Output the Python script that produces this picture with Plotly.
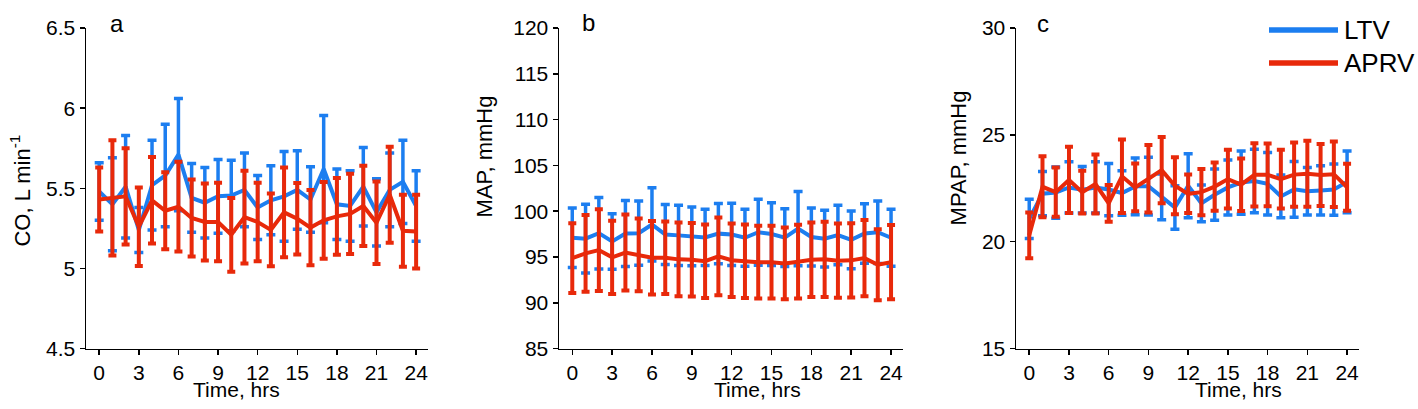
import plotly.graph_objects as go

hours = list(range(25))
x_tick_vals = [0, 3, 6, 9, 12, 15, 18, 21, 24]
x_tick_text = ["0", "3", "6", "9", "12", "15", "18", "21", "24"]

co_ticks = [4.5, 5, 5.5, 6, 6.5]
co_tick_text = ["4.5", "5", "5.5", "6", "6.5"]
map_ticks = [85, 90, 95, 100, 105, 110, 115, 120]
mpap_ticks = [15, 20, 25, 30]

co_ltv_mean = [5.48, 5.40, 5.51, 5.24, 5.52, 5.58, 5.71, 5.44, 5.41, 5.45, 5.455, 5.49, 5.38,
               5.425, 5.45, 5.49, 5.43, 5.62, 5.40, 5.39, 5.51, 5.35, 5.49, 5.54, 5.39]
co_ltv_sd = [0.18, 0.29, 0.32, 0.14, 0.28, 0.32, 0.35, 0.215, 0.22, 0.23, 0.22, 0.23, 0.20,
             0.215, 0.28, 0.245, 0.205, 0.335, 0.22, 0.22, 0.245, 0.21, 0.23, 0.26, 0.22]
co_aprv_mean = [5.43, 5.44, 5.45, 5.26, 5.425, 5.36, 5.385, 5.315, 5.29, 5.29, 5.21, 5.32, 5.29,
                5.24, 5.35, 5.31, 5.255, 5.30, 5.325, 5.34, 5.39, 5.285, 5.46, 5.235, 5.23]
co_aprv_sd = [0.20, 0.36, 0.30, 0.245, 0.27, 0.24, 0.28, 0.24, 0.24, 0.245, 0.23, 0.29, 0.245,
              0.227, 0.28, 0.223, 0.235, 0.24, 0.24, 0.25, 0.25, 0.257, 0.30, 0.224, 0.23]

map_ltv_mean = [97.1, 97.0, 97.6, 96.7, 97.57, 97.6, 98.55, 97.45, 97.36, 97.25, 97.14, 97.55, 97.46,
                97.1, 97.7, 97.5, 97.12, 98.1, 97.18, 97.0, 97.4, 96.87, 97.57, 97.7, 97.1]
map_ltv_sd = [3.25, 3.75, 3.9, 3.03, 3.6, 3.5, 4.0, 3.27, 3.3, 3.2, 3.07, 3.3, 3.4,
              3.1, 3.6, 3.43, 3.16, 4.05, 3.17, 3.1, 3.25, 3.16, 3.25, 3.4, 3.1]
map_aprv_mean = [94.88, 95.39, 95.75, 94.96, 95.48, 95.22, 94.92, 94.92, 94.74, 94.7, 94.54, 95.06, 94.65,
                 94.54, 94.43, 94.43, 94.3, 94.49, 94.7, 94.74, 94.6, 94.63, 94.88, 94.16, 94.43]
map_aprv_sd = [3.81, 4.2, 4.46, 4.0, 4.15, 3.97, 4.02, 3.95, 4.02, 4.02, 4.01, 4.24, 4.01,
               4.01, 3.97, 3.97, 3.92, 4.02, 4.06, 4.1, 4.05, 4.06, 4.17, 3.88, 4.05]

mpap_ltv_mean = [21.07, 22.25, 22.3, 22.54, 22.43, 22.54, 22.44, 22.28, 22.59, 22.6, 22.1, 21.6, 22.62,
                 21.8, 22.2, 22.54, 22.77, 22.84, 22.71, 22.12, 22.45, 22.36, 22.4, 22.44, 22.8]
mpap_ltv_sd = [0.92, 1.04, 1.2, 1.2, 1.09, 1.2, 1.22, 1.04, 1.33, 1.35, 1.07, 1.02, 1.5,
               0.86, 1.2, 1.29, 1.48, 1.49, 1.46, 1.0, 1.3, 1.11, 1.15, 1.2, 1.45]
mpap_aprv_mean = [20.3, 22.57, 22.32, 22.89, 22.32, 22.7, 21.8, 23.06, 22.54, 22.95, 23.35, 22.62, 22.24,
                  22.32, 22.58, 22.93, 22.67, 23.13, 23.13, 22.93, 23.14, 23.18, 23.12, 23.16, 22.55]
mpap_aprv_sd = [1.07, 1.43, 1.15, 1.55, 1.0, 1.38, 0.86, 1.72, 1.12, 1.58, 1.55, 1.33, 0.9,
                1.08, 1.13, 1.37, 1.23, 1.48, 1.47, 1.37, 1.5, 1.54, 1.45, 1.53, 1.1]

BLUE = "#1c7ef0"
RED = "#e8290a"
FONT = "Liberation Sans, Arial, sans-serif"
W, H = 1418, 409

# measured: the photographed picture shows figure row y at about 0.938*y + 12.5
SY, OY = 0.938, 12.5


def px_x(p):
    return p / W


def fig_frac(fy):
    """paper fraction for a figure-pixel row"""
    return 1 - fy / H


def t2f(t):
    """figure-pixel row for a wanted picture row"""
    return (t - OY) / SY


fig = go.Figure()

panels = [
    ("x", "y", co_ltv_mean, co_ltv_sd, co_aprv_mean, co_aprv_sd),
    ("x2", "y2", map_ltv_mean, map_ltv_sd, map_aprv_mean, map_aprv_sd),
    ("x3", "y3", mpap_ltv_mean, mpap_ltv_sd, mpap_aprv_mean, mpap_aprv_sd),
]
for i, (xa, ya, lm, ls, am, asd) in enumerate(panels):
    fig.add_trace(go.Scatter(
        x=hours, y=lm, mode="lines", name="LTV", xaxis=xa, yaxis=ya,
        line=dict(color=BLUE, width=4),
        error_y=dict(type="data", array=ls, visible=True, color=BLUE, thickness=3.5, width=4.5),
        showlegend=False, legendgroup="LTV"))
    fig.add_trace(go.Scatter(
        x=hours, y=am, mode="lines", name="APRV", xaxis=xa, yaxis=ya,
        line=dict(color=RED, width=4),
        error_y=dict(type="data", array=asd, visible=True, color=RED, thickness=4, width=4),
        showlegend=False, legendgroup="APRV"))

y_dom = [fig_frac(t2f(347)), fig_frac(17)]
x_doms = [[px_x(86), px_x(428)], [px_x(559), px_x(903)], [px_x(1016), px_x(1359)]]

axis_common = dict(showline=True, linecolor="black", linewidth=1.5, ticks="outside",
                   tickcolor="black", tickwidth=1.5, ticklen=5, showgrid=False, zeroline=False,
                   tickfont=dict(family=FONT, size=21, color="black"))

layout = dict(
    width=W, height=H, margin=dict(l=0, r=0, t=0, b=0),
    paper_bgcolor="white", plot_bgcolor="white", showlegend=False,
    font=dict(family=FONT, size=21, color="black"),
)
y_settings = [
    dict(range=[4.5, 6.5], tickvals=co_ticks, ticktext=co_tick_text),
    dict(range=[85, 120], tickvals=map_ticks),
    dict(range=[15, 30], tickvals=mpap_ticks),
]
for i in range(3):
    sfx = "" if i == 0 else str(i + 1)
    layout["xaxis" + sfx] = dict(domain=x_doms[i], range=[-1, 24.9], tickvals=x_tick_vals,
                                 ticktext=x_tick_text, anchor="y" + sfx, **axis_common)
    layout["yaxis" + sfx] = dict(domain=y_dom, anchor="x" + sfx, **y_settings[i], **axis_common)
fig.update_layout(**layout)

ann = []
for txt, cx in [("Time, hrs", 236), ("Time, hrs", 758), ("Time, hrs", 1238)]:
    ann.append(dict(text=txt, x=px_x(cx), y=fig_frac(399.5), xref="paper", yref="paper",
                    xanchor="center", yanchor="middle", showarrow=False,
                    font=dict(family=FONT, size=21, color="black")))
for txt, cx, cy in [("CO, L min<sup>-1</sup>", 20, 190), ("MAP, mmHg", 484, 156), ("MPAP, mmHg", 958, 157)]:
    ann.append(dict(text=txt, x=px_x(cx), y=fig_frac(t2f(cy)), xref="paper", yref="paper",
                    xanchor="center", yanchor="middle", textangle=-90, showarrow=False,
                    font=dict(family=FONT, size=22, color="black")))
for txt, cx, fy in [("a", 117, 11.7), ("b", 588, 10.7), ("c", 1043, 11.7)]:
    ann.append(dict(text=txt, x=px_x(cx), y=fig_frac(fy), xref="paper", yref="paper",
                    xanchor="center", yanchor="middle", showarrow=False,
                    font=dict(family=FONT, size=24, color="black")))
# legend
for txt, color, fy in [("LTV", BLUE, 19), ("APRV", RED, 54)]:
    fig.add_shape(type="line", xref="paper", yref="paper", x0=px_x(1269), x1=px_x(1338),
                  y0=fig_frac(fy), y1=fig_frac(fy), line=dict(color=color, width=5.5))
    ann.append(dict(text=txt, x=px_x(1342), y=fig_frac(fy), xref="paper", yref="paper",
                    xanchor="left", yanchor="middle", showarrow=False,
                    font=dict(family=FONT, size=26, color="black")))
fig.update_layout(annotations=ann)

PIN_PAGE = (
    "document.documentElement.style.margin='0';"
    "document.documentElement.style.overflow='hidden';"
    "document.body.style.margin='0';document.body.style.padding='0';"
    "document.body.style.overflow='hidden';"
    "var g=document.getElementById('{plot_id}');"
    "g.style.position='fixed';g.style.top='0px';g.style.left='0px';"
)

fig.write_html("out.html", config={"displayModeBar": False, "staticPlot": True},
               post_script=PIN_PAGE)
